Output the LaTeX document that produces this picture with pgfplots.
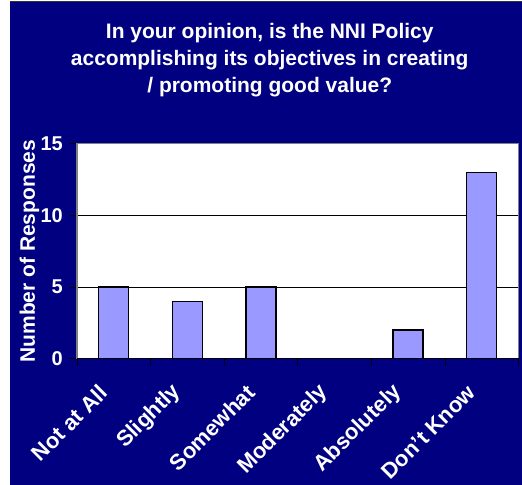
\documentclass[border=0pt]{standalone}
\usepackage{pgfplots}
\pgfplotsset{compat=1.18}
\usepackage{fontspec}
\setmainfont{Liberation Sans}
\definecolor{navybg}{HTML}{000080}
\definecolor{barfill}{HTML}{9999FF}
\begin{document}
\begin{tikzpicture}[x=1pt,y=1pt]
\fill[white] (-77,-126) rectangle (445,359);
\fill[navybg] (-67,-126) rectangle (445,357);
\draw[black!80,line width=1pt] (-67,357.5) -- (445,357.5);
\node[anchor=north,align=center,inner sep=0pt,text=white,font=\bfseries\fontsize{21}{27}\selectfont] at (193,336)
 {In your opinion, is the NNI Policy\\accomplishing its objectives in creating\\/ promoting good value?};
\begin{axis}[
  at={(0,0)}, anchor=south west,
  scale only axis, width=442pt, height=215pt,
  xmin=-0.5, xmax=5.5, ymin=0, ymax=15,
  axis background/.style={fill=white},
  axis line style={draw=gray, line width=1.2pt},
  ytick={0,5,10,15},
  ymajorgrids, grid style={black, line width=0.8pt},
  tick align=outside, major tick length=7pt,
  tick pos=left,
  tick style={black, line width=0.8pt},
  xtick={-0.5,0.5,...,5.5}, xticklabels={},
  xticklabel style={inner sep=0pt},
  extra x ticks={0,1,2,3,4,5},
  extra x tick labels={Not at All,Slightly,Somewhat,Moderately,Absolutely,Don't Know},
  extra x tick style={major tick length=0pt, grid=none,
     xticklabel style={rotate=45, anchor=east, inner sep=0pt, xshift=-28.3pt, yshift=-14.2pt, font=\bfseries\fontsize{22}{24}\selectfont}},
  every tick label/.append style={text=white, font=\bfseries\fontsize{21}{24}\selectfont},
  yticklabel style={font=\bfseries\fontsize{20}{24}\selectfont, anchor=east, inner sep=0pt, xshift=-7pt},
  /pgf/number format/assume math mode=true,
  ylabel={Number of Responses},
  every axis y label/.style={at={(axis description cs:-0.095,0.5)}, rotate=90, anchor=base, inner sep=0pt, text=white, font=\bfseries\fontsize{21}{24}\selectfont},
  clip=false,
]
\addplot[ybar, bar width=30pt, fill=barfill, draw=black, line width=1.4pt] coordinates {(0,5) (1,4) (2,5) (3,0) (4,2) (5,13)};
\draw[black, line width=1pt] (axis cs:-0.5,0) -- (axis cs:5.5,0);
\end{axis}
\end{tikzpicture}
\end{document}
